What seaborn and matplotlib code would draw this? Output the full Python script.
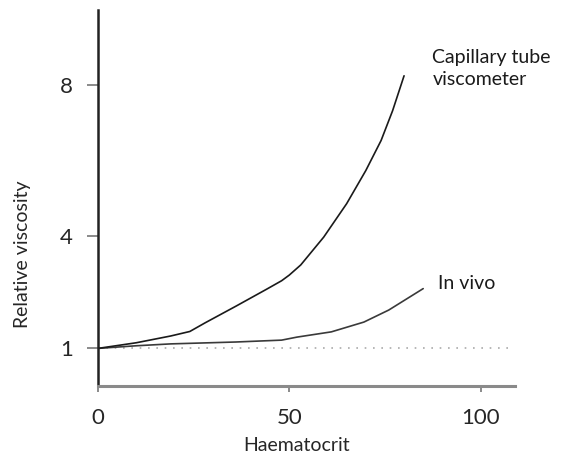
import matplotlib
matplotlib.use("Agg")
import matplotlib.pyplot as plt
import seaborn as sns
import pandas as pd

# values
capillary_hct = [0, 10, 19, 24, 28, 36, 44, 48, 50, 53, 59, 65, 70, 74, 77, 80]
capillary_visc = [1.0, 1.15, 1.33, 1.45, 1.68, 2.12, 2.57, 2.8, 2.95, 3.22, 3.96, 4.85, 5.73, 6.53, 7.32, 8.25]

invivo_hct = [0, 10, 19, 36, 48, 52, 61, 69.5, 76, 85]
invivo_visc = [1.0, 1.07, 1.12, 1.17, 1.22, 1.3, 1.44, 1.70, 2.02, 2.59]

plasma_hct = [0, 108]
plasma_visc = [1.0, 1.0]

y_ticks = [1, 4, 8]
x_ticks = [0, 50, 100]

cap = pd.DataFrame({"hct": capillary_hct, "visc": capillary_visc})
viv = pd.DataFrame({"hct": invivo_hct, "visc": invivo_visc})
pla = pd.DataFrame({"hct": plasma_hct, "visc": plasma_visc})

sns.set_style("white")
plt.rcParams["font.family"] = ["Lato", "DejaVu Sans"]

fig = plt.figure(figsize=(5.61, 4.66), dpi=100)
ax = fig.add_axes([98 / 561, 80 / 466, 417 / 561, 376 / 466])

sns.lineplot(data=pla, x="hct", y="visc", ax=ax, color="#aaaaaa",
             linestyle=(0, (1, 4)), linewidth=1.2)
sns.lineplot(data=viv, x="hct", y="visc", ax=ax, color="#3a3a3a", linewidth=1.2)
sns.lineplot(data=cap, x="hct", y="visc", ax=ax, color="#1a1a1a", linewidth=1.2)

ax.set_xlim(0, 109)
ax.set_ylim(0, 10)
ax.set_xticks(x_ticks)
ax.set_yticks(y_ticks)
ax.set_xticklabels([str(t) for t in x_ticks])
ax.set_yticklabels([str(t) for t in y_ticks])

for side in ["top", "right"]:
    ax.spines[side].set_visible(False)
ax.spines["left"].set_color("#222222")
ax.spines["left"].set_linewidth(1.8)
ax.spines["bottom"].set_color("#8a8a8a")
ax.spines["bottom"].set_linewidth(2.2)

ax.tick_params(axis="y", direction="out", length=8, width=1.2, color="#777777",
               labelsize=16, pad=10, left=True)
ax.tick_params(axis="x", direction="out", length=4, width=1.2, color="#777777",
               labelsize=16, pad=12, bottom=True)

ax.set_xlabel("Haematocrit", fontsize=14)
ax.set_ylabel("Relative viscosity", fontsize=14)
ax.xaxis.set_label_coords(0.475, -0.135)
ax.yaxis.set_label_coords(-0.16, 0.35)

ax.text(87.4, 8.95, "Capillary tube\nviscometer", fontsize=14, va="top",
        ha="left", linespacing=1.3, color="#1a1a1a")
ax.text(89, 2.73, "In vivo", fontsize=14, va="center", ha="left", color="#1a1a1a")

fig.savefig("out.png", dpi=100)
